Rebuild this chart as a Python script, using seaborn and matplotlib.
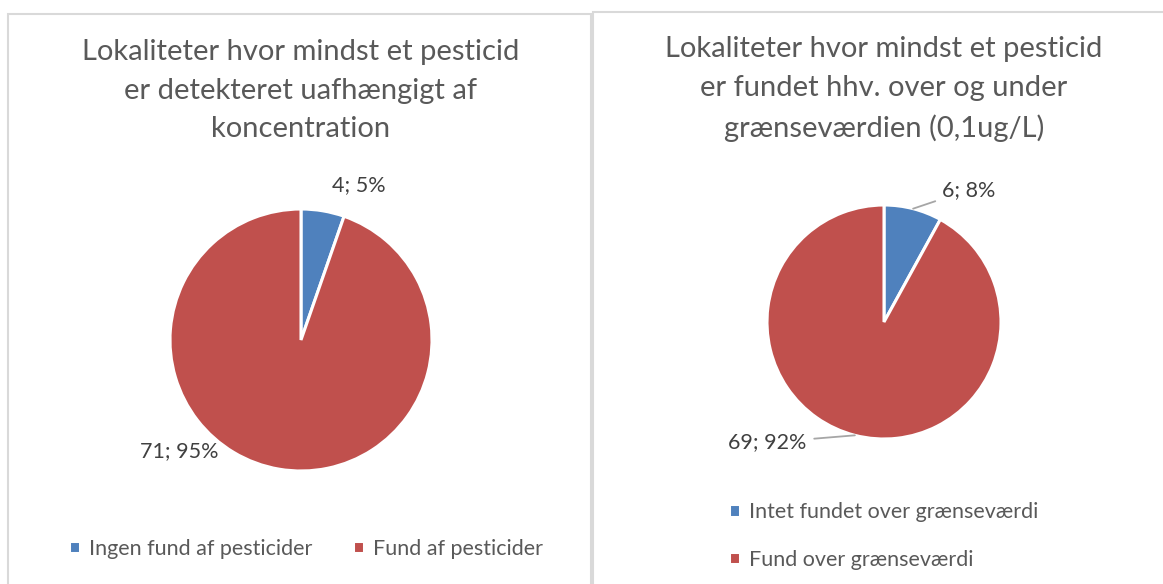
import numpy as np
import matplotlib
matplotlib.use('Agg')
import matplotlib.pyplot as plt
from matplotlib.patches import Rectangle
import seaborn as sns

# data
left_labels = ['Ingen fund af pesticider', 'Fund af pesticider']
left_values = [4, 71]
right_labels = ['Intet fundet over grænseværdi', 'Fund over grænseværdi']
right_values = [6, 69]

left_title = 'Lokaliteter hvor mindst et pesticid\ner detekteret uafhængigt af\nkoncentration'
right_title = 'Lokaliteter hvor mindst et pesticid\ner fundet hhv. over og under\ngrænseværdien (0,1ug/L)'

sns.set_theme(style='white')
plt.rcParams['font.family'] = ['Lato', 'DejaVu Sans']
colors = sns.color_palette(['#4F81BD', '#C0504D'])
text_col = '#595959'
label_col = '#404040'

W, H = 1163, 584
fig = plt.figure(figsize=(W / 100, H / 100), dpi=100)


def fx(px):
    return px / W


def fy(py):
    return 1 - py / H


# panel frames
for x0, y0, x1 in [(8, 14, 591), (593, 12, 1175)]:
    fig.patches.append(Rectangle((fx(x0), fy(600)), fx(x1 - x0), (600 - y0) / H,
                                 transform=fig.transFigure, fill=False,
                                 edgecolor='#D9D9D9', lw=1.5))


def draw_pie(box, values, labels, label_pos, leaders):
    ax = fig.add_axes(box)
    wedges, _ = ax.pie(values, colors=colors, startangle=90, counterclock=False,
                       wedgeprops=dict(edgecolor='white', linewidth=2.2))
    ax.set_xlim(-1, 1)
    ax.set_ylim(-1, 1)
    ax.set_aspect('auto')
    ax.axis('off')
    total = sum(values)
    for w, v, (tx, ty, ha) in zip(wedges, values, label_pos):
        txt = f'{v}; {round(100 * v / total)}%'
        mid = np.deg2rad((w.theta1 + w.theta2) / 2)
        if leaders:
            ax.annotate(txt, xy=(np.cos(mid), np.sin(mid)), xytext=(tx, ty),
                        ha=ha, va='center', fontsize=15.5, color=label_col,
                        annotation_clip=False,
                        arrowprops=dict(arrowstyle='-', color='#A6A6A6', lw=1.3,
                                        shrinkA=3, shrinkB=0))
        else:
            ax.text(tx, ty, txt, ha=ha, va='center', fontsize=15.5, color=label_col,
                    clip_on=False)
    return ax, wedges


# left chart
axl, wl = draw_pie([fx(170), fy(471), fx(262), 262 / H], left_values, left_labels,
                   [(0.24, 1.18, 'left'), (-0.63, -0.85, 'right')], False)
fig.text(fx(301), fy(39), left_title, ha='center', va='top', fontsize=21,
         color=text_col, linespacing=1.6)
fig.legend(wl, left_labels, loc='center', bbox_to_anchor=(fx(306), fy(549)),
           ncol=2, frameon=False, fontsize=15.5, handlelength=0.5, handleheight=0.5,
           handletextpad=0.4, columnspacing=1.9, labelcolor=text_col)

# right chart
axr, wr = draw_pie([fx(767), fy(439), fx(234), 234 / H], right_values, right_labels,
                   [(0.50, 1.13, 'left'), (-0.66, -1.03, 'right')], True)
fig.text(fx(884), fy(36), right_title, ha='center', va='top', fontsize=21,
         color=text_col, linespacing=1.6)
fig.legend(wr, right_labels, loc='center left', bbox_to_anchor=(fx(710), fy(536)),
           ncol=1, frameon=False, fontsize=15.5, handlelength=0.5, handleheight=0.5,
           handletextpad=0.4, labelspacing=1.3, labelcolor=text_col)

fig.savefig('out.png', dpi=100, facecolor='white')
